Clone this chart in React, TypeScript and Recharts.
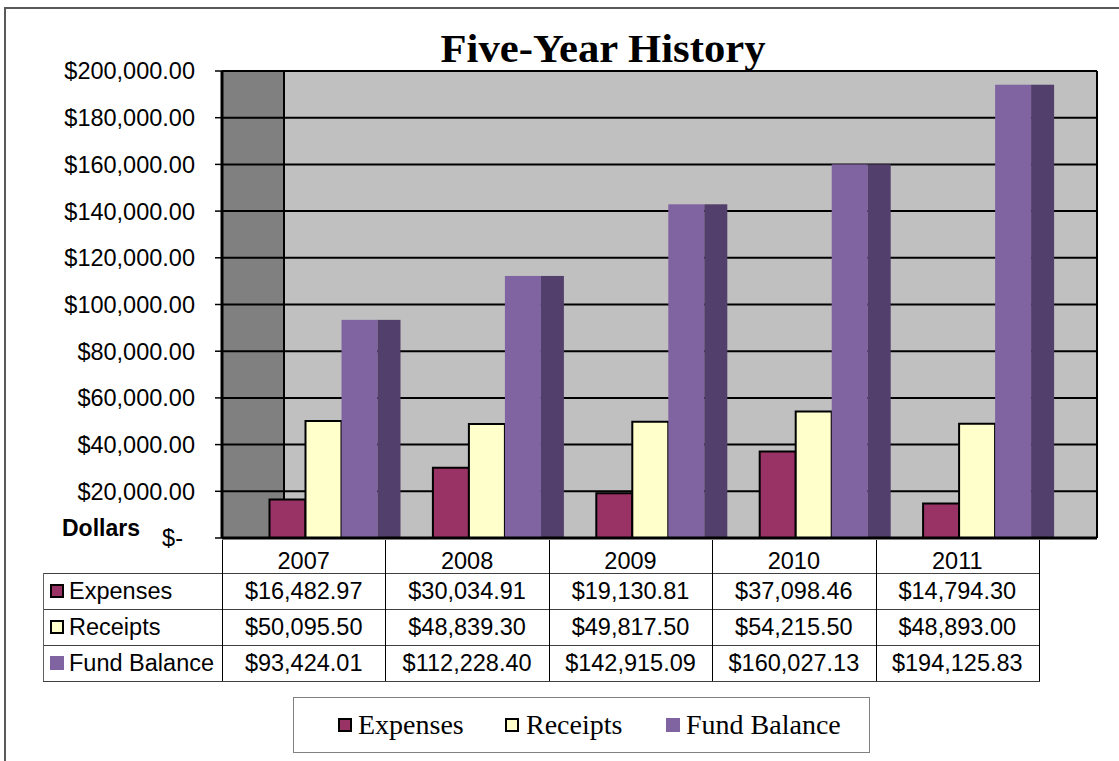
import React from 'react';
import { ComposedChart, Bar, XAxis, YAxis, CartesianGrid, ReferenceLine } from 'recharts';

// ---------- data ----------
const years = ['2007', '2008', '2009', '2010', '2011'];
const expenses = [16482.97, 30034.91, 19130.81, 37098.46, 14794.3];
const receipts = [50095.5, 48839.3, 49817.5, 54215.5, 48893.0];
const fundBalance = [93424.01, 112228.4, 142915.09, 160027.13, 194125.83];
const yTicks = [0, 20000, 40000, 60000, 80000, 100000, 120000, 140000, 160000, 180000, 200000];
const seriesNames = ['Expenses', 'Receipts', 'Fund Balance'];
const titleText = 'Five-Year History';
const yAxisTitle = 'Dollars';

// ---------- styles / layout ----------
const W = 1119;
const H = 761;
const PLOT_LEFT = 222;
const PLOT_RIGHT = 1097;
const PLOT_TOP = 71;
const PLOT_BOTTOM = 538;
const FRONT_RIGHT = 1039;
const SIDE_WALL = 62;
const BAR_SHIFT = 19.5;
const DEPTH = PLOT_RIGHT - FRONT_RIGHT;
const COL_W = (FRONT_RIGHT - PLOT_LEFT) / years.length;
const SIDE_FACE = 23;

const C_EXP = '#993366';
const C_REC = '#FFFFCC';
const C_FUND = '#8064A2';
const C_FUND_SIDE = '#533F6B';
const C_SIDE_WALL = '#808080';
const C_BACK_WALL = '#C0C0C0';

const SANS = '"Liberation Sans", Arial, sans-serif';
const SERIF = '"Liberation Serif", "Times New Roman", serif';

const data = years.map((y, i) => ({
  year: y,
  expenses: expenses[i],
  receipts: receipts[i],
  fundBalance: fundBalance[i],
}));

const money = (v: number) =>
  '$' + v.toLocaleString('en-US', { minimumFractionDigits: 2, maximumFractionDigits: 2 });

const YTick = (props: any) => {
  const { x, y, payload } = props;
  const v = payload.value as number;
  const label = v === 0 ? '$-' : money(v);
  return (
    <text
      x={v === 0 ? x - 12 : x}
      y={y}
      dy="0.36em"
      textAnchor="end"
      fontFamily={SANS}
      fontSize={23.5}
      fill="#000"
    >
      {label}
    </text>
  );
};

const FundShape = (props: any) => {
  const { x, y, width, height } = props;
  if (height == null || height <= 0) return null;
  return (
    <g>
      <rect x={x} y={y} width={width} height={height} fill={C_FUND} />
      <rect x={x + width} y={y} width={SIDE_FACE} height={height} fill={C_FUND_SIDE} />
    </g>
  );
};

const seriesArrays = [expenses, receipts, fundBalance];
const markerStyles = [
  { background: C_EXP, border: '2px solid #000' },
  { background: C_REC, border: '2px solid #000' },
  { background: C_FUND, border: 'none' },
];

const TABLE_LEFT = 43;
const HEADER_TOP = 540;
const ROW_TOPS = [573, 609, 645];
const ROW_H = 36;
const TABLE_BOTTOM = ROW_TOPS[2] + ROW_H;

function DataTable() {
  const els: React.ReactNode[] = [];
  [...ROW_TOPS, TABLE_BOTTOM].forEach((y, i) => {
    els.push(
      <div
        key={'h' + i}
        style={{ position: 'absolute', left: TABLE_LEFT, top: y, width: FRONT_RIGHT - TABLE_LEFT + 1, height: 1, background: '#404040' }}
      />
    );
  });
  els.push(
    <div key="vl" style={{ position: 'absolute', left: TABLE_LEFT, top: ROW_TOPS[0], width: 1, height: TABLE_BOTTOM - ROW_TOPS[0], background: '#606060' }} />
  );
  for (let i = 0; i <= years.length; i++) {
    const x = Math.round(PLOT_LEFT + i * COL_W);
    els.push(
      <div key={'v' + i} style={{ position: 'absolute', left: x, top: HEADER_TOP, width: 1, height: TABLE_BOTTOM - HEADER_TOP, background: '#000' }} />
    );
  }
  years.forEach((y, i) => {
    els.push(
      <div
        key={'yh' + i}
        style={{
          position: 'absolute', left: PLOT_LEFT + i * COL_W, top: HEADER_TOP + 5, width: COL_W, height: ROW_TOPS[0] - HEADER_TOP,
          lineHeight: ROW_TOPS[0] - HEADER_TOP + 'px', textAlign: 'center', fontFamily: SANS, fontSize: 23.5,
        }}
      >
        {y}
      </div>
    );
  });
  seriesNames.forEach((name, r) => {
    const top = ROW_TOPS[r];
    els.push(
      <div key={'mk' + r} style={{ position: 'absolute', left: 50, top: top + 11, width: 14, height: 14, boxSizing: 'border-box', ...markerStyles[r] }} />
    );
    els.push(
      <div key={'lb' + r} style={{ position: 'absolute', left: 69, top, height: ROW_H, lineHeight: ROW_H + 'px', fontFamily: SANS, fontSize: 23.5, whiteSpace: 'nowrap' }}>
        {name}
      </div>
    );
    seriesArrays[r].forEach((v, i) => {
      els.push(
        <div
          key={'c' + r + '_' + i}
          style={{
            position: 'absolute', left: PLOT_LEFT + i * COL_W, top, width: COL_W, height: ROW_H,
            lineHeight: ROW_H + 'px', textAlign: 'center', fontFamily: SANS, fontSize: 23.5,
          }}
        >
          {money(v)}
        </div>
      );
    });
  });
  return <>{els}</>;
}

function Legend() {
  const xs = [
    { m: 337, t: 357 },
    { m: 504, t: 525 },
    { m: 665, t: 685 },
  ];
  return (
    <div style={{ position: 'absolute', left: 293, top: 697, width: 577, height: 56, border: '1px solid #808080', boxSizing: 'border-box', background: '#fff' }}>
      {seriesNames.map((n, i) => (
        <React.Fragment key={n}>
          <div style={{ position: 'absolute', left: xs[i].m - 293, top: 20, width: 14, height: 14, boxSizing: 'border-box', ...markerStyles[i] }} />
          <div style={{ position: 'absolute', left: xs[i].t - 293, top: 0, height: 54, lineHeight: '54px', fontFamily: SERIF, fontSize: 28, whiteSpace: 'nowrap' }}>
            {n}
          </div>
        </React.Fragment>
      ))}
    </div>
  );
}

export default function App() {
  return (
    <div style={{ position: 'absolute', left: 0, top: 0, width: W, height: H, overflow: 'hidden', background: '#fff' }}>
      <div style={{ position: 'absolute', left: 4, top: 7, width: 1300, height: 900, borderLeft: '2px solid #595959', borderTop: '2px solid #595959' }} />
      <div style={{ position: 'absolute', left: 0, top: 0 }}>
        <ComposedChart
          width={W}
          height={H}
          data={data}
          margin={{ top: PLOT_TOP, right: W - PLOT_RIGHT, bottom: H - PLOT_BOTTOM, left: 0 }}
          barGap={0}
        >
          <CartesianGrid
            stroke="#000"
            strokeWidth={2}
            verticalCoordinatesGenerator={({ offset }: any) => [
              offset.left,
              offset.left + SIDE_WALL,
              offset.left + offset.width,
            ]}
            verticalFill={[C_SIDE_WALL, C_BACK_WALL]}
          />
          <XAxis dataKey="year" type="category" hide padding={{ left: BAR_SHIFT, right: DEPTH - BAR_SHIFT }} />
          <YAxis
            type="number"
            domain={[0, 200000]}
            ticks={yTicks}
            interval={0}
            width={PLOT_LEFT}
            tickSize={7}
            tickMargin={20}
            tick={<YTick />}
            axisLine={{ stroke: '#000', strokeWidth: 3 }}
            tickLine={{ stroke: '#000', strokeWidth: 1.5 }}
          />
          <ReferenceLine y={0} stroke="#000" strokeWidth={3} />
          <Bar dataKey="expenses" name="Expenses" fill={C_EXP} stroke="#000" strokeWidth={2} barSize={36} isAnimationActive={false} />
          <Bar dataKey="receipts" name="Receipts" fill={C_REC} stroke="#000" strokeWidth={2} barSize={36} isAnimationActive={false} />
          <Bar dataKey="fundBalance" name="Fund Balance" fill={C_FUND} barSize={36} shape={FundShape} isAnimationActive={false} />
        </ComposedChart>
      </div>
      <svg width={W} height={H} style={{ position: 'absolute', left: 0, top: 0, pointerEvents: 'none' }}>
        <text
          x={603}
          y={62}
          textAnchor="middle"
          fontFamily={SERIF}
          fontWeight="bold"
          fontSize={40}
          textLength={325}
          lengthAdjust="spacingAndGlyphs"
          fill="#000"
        >
          {titleText}
        </text>
        <text x={62} y={536} fontFamily={SANS} fontWeight="bold" fontSize={23} fill="#000">
          {yAxisTitle}
        </text>
      </svg>
      <DataTable />
      <Legend />
    </div>
  );
}
